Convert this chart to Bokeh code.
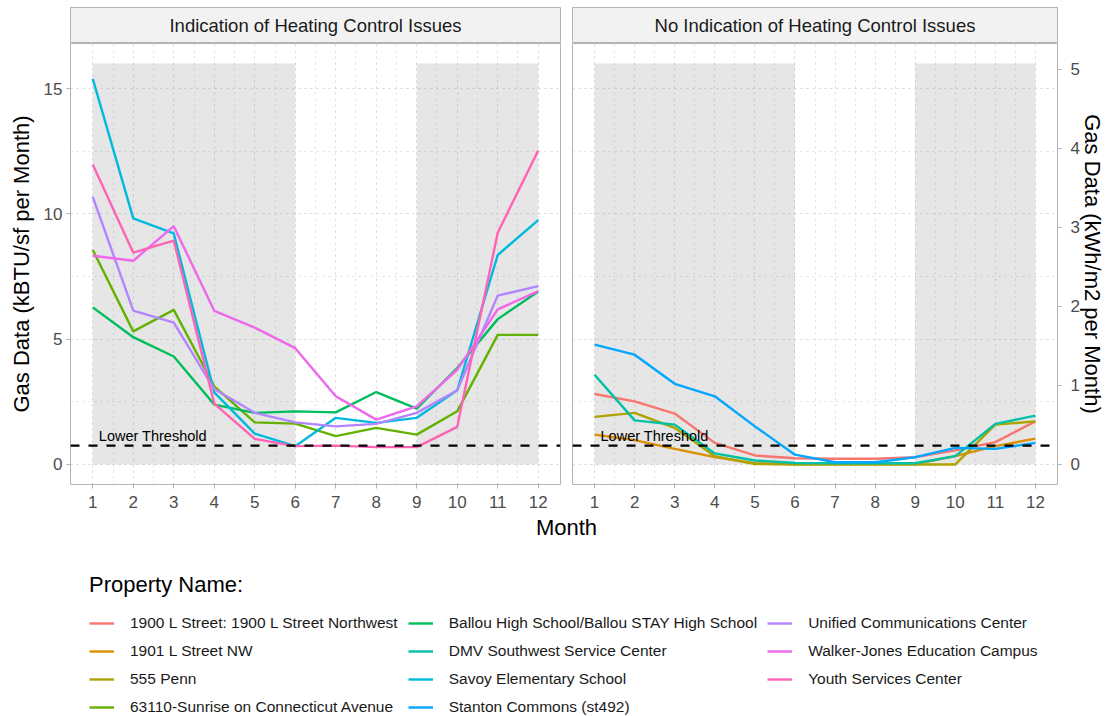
from bokeh.plotting import figure
from bokeh.models import (Range1d, LinearAxis, FixedTicker, Grid, Span, Label,
                          Legend, LegendItem)
from bokeh.layouts import row, column
from bokeh.embed import file_html
from bokeh.resources import INLINE

FONT = "Liberation Sans"

# ---------------- data ----------------
months = [1, 2, 3, 4, 5, 6, 7, 8, 9, 10, 11, 12]
minor_months = [1.5, 2.5, 3.5, 4.5, 5.5, 6.5, 7.5, 8.5, 9.5, 10.5, 11.5]
panels = ["Indication of Heating Control Issues", "No Indication of Heating Control Issues"]

property_names = [
    "1900 L Street: 1900 L Street Northwest",
    "1901 L Street NW",
    "555 Penn",
    "63110-Sunrise on Connecticut Avenue",
    "Ballou High School/Ballou STAY High School",
    "DMV Southwest Service Center",
    "Savoy Elementary School",
    "Stanton Commons (st492)",
    "Unified Communications Center",
    "Walker-Jones Education Campus",
    "Youth Services Center",
]
colors = ["#F8766D", "#DB8E00", "#AEA200", "#64B200", "#00BD5C", "#00C1A7",
          "#00BADE", "#00A6FF", "#B385FF", "#EF67EB", "#FF63B6"]
# 0 = Indication of Heating Control Issues, 1 = No Indication
panel_of = [1, 1, 1, 0, 0, 1, 0, 1, 0, 0, 0]

# Gas data, kBTU/sf per month
gas_1900_l = [2.81, 2.52, 2.03, 0.86, 0.36, 0.25, 0.23, 0.23, 0.29, 0.56, 0.89, 1.72]
gas_1901_l = [1.19, 0.97, 0.62, 0.29, 0.05, 0.02, 0.02, 0.02, 0.02, 0.33, 0.73, 1.03]
gas_555_penn = [1.90, 2.06, 1.46, 0.33, 0.02, 0.0, 0.0, 0.0, 0.0, 0.0, 1.59, 1.72]
gas_sunrise = [8.56, 5.31, 6.17, 3.12, 1.68, 1.63, 1.13, 1.46, 1.19, 2.12, 5.17, 5.17]
gas_ballou = [6.27, 5.08, 4.31, 2.39, 2.06, 2.12, 2.08, 2.89, 2.23, 3.85, 5.80, 6.90]
gas_dmv = [3.58, 1.76, 1.59, 0.44, 0.16, 0.06, 0.05, 0.05, 0.05, 0.33, 1.62, 1.95]
gas_savoy = [15.39, 9.82, 9.22, 2.88, 1.23, 0.73, 1.86, 1.66, 1.86, 2.96, 8.36, 9.75]
gas_stanton = [4.78, 4.38, 3.22, 2.72, 1.52, 0.39, 0.09, 0.09, 0.29, 0.66, 0.62, 0.86]
gas_unified = [10.68, 6.14, 5.66, 3.01, 2.06, 1.68, 1.52, 1.62, 2.06, 2.96, 6.74, 7.12]
gas_walker = [8.33, 8.13, 9.51, 6.13, 5.46, 4.64, 2.72, 1.79, 2.32, 3.78, 6.19, 6.92]
gas_youth = [11.97, 8.45, 8.93, 2.43, 1.02, 0.73, 0.75, 0.69, 0.69, 1.50, 9.25, 12.53]

series = [gas_1900_l, gas_1901_l, gas_555_penn, gas_sunrise, gas_ballou, gas_dmv,
          gas_savoy, gas_stanton, gas_unified, gas_walker, gas_youth]

y_ticks = [0, 5, 10, 15]
y_minor = [2.5, 7.5, 12.5]
kwh_ticks = [0, 1, 2, 3, 4, 5]
kbtu_per_kwh_m2 = 3.1546

shade_start = [1, 9]
shade_end = [6, 12]
shade_bottom = 0
shade_top = 16
threshold = 0.75
threshold_label = "Lower Threshold"

y_title = "Gas Data (kBTU/sf per Month)"
y2_title = "Gas Data (kWh/m2 per Month)"
x_title = "Month"
legend_title = "Property Name:"

# ---------------- style ----------------
BORDER = "#B3B3B3"
TICK_TXT = "#4D4D4D"


def style_axis(ax):
    ax.axis_line_color = None
    ax.major_tick_line_color = BORDER
    ax.major_tick_out = 4
    ax.major_tick_in = 0
    ax.minor_tick_line_color = None
    ax.major_label_text_font = FONT
    ax.major_label_text_font_size = "17px"
    ax.major_label_text_color = TICK_TXT
    ax.axis_label_text_font = FONT
    ax.axis_label_text_font_size = "22px"
    ax.axis_label_text_font_style = "normal"
    ax.axis_label_text_color = "black"


def make_panel(i):
    left = i == 0
    w = 566 if left else 541
    mb_left = 70 if left else 6
    mb_right = 6 if left else 45
    p = figure(width=w, height=473, x_range=Range1d(0.45, 12.55),
               y_range=Range1d(-0.8, 16.8), output_backend="svg",
               toolbar_location=None, title=None, x_axis_type=None, y_axis_type=None,
               min_border_left=mb_left, min_border_right=mb_right,
               min_border_top=0, min_border_bottom=32,
               outline_line_color=BORDER, outline_line_width=1,
               background_fill_color="white", border_fill_color="white")
    xg = Grid(dimension=0, ticker=FixedTicker(ticks=months, minor_ticks=minor_months),
              grid_line_color="#D4D4D4", grid_line_dash="2 4", grid_line_width=1,
              minor_grid_line_color="#DEDEDE", minor_grid_line_dash="2 4")
    yg = Grid(dimension=1, ticker=FixedTicker(ticks=y_ticks, minor_ticks=y_minor),
              grid_line_color="#D4D4D4", grid_line_dash="2 4", grid_line_width=1,
              minor_grid_line_color="#DEDEDE", minor_grid_line_dash="2 4")
    p.add_layout(xg, "center")
    p.add_layout(yg, "center")

    xa = LinearAxis(ticker=FixedTicker(ticks=months))
    style_axis(xa)
    xa.major_label_standoff = 7
    p.add_layout(xa, "below")

    if left:
        ya = LinearAxis(ticker=FixedTicker(ticks=y_ticks), axis_label=y_title)
        style_axis(ya)
        ya.major_label_standoff = 4
        ya.axis_label_standoff = 7
        p.add_layout(ya, "left")
    else:
        p.extra_y_ranges = {"kwh": Range1d(-0.8 / kbtu_per_kwh_m2, 16.8 / kbtu_per_kwh_m2)}
        ya = LinearAxis(y_range_name="kwh", ticker=FixedTicker(ticks=kwh_ticks),
                        axis_label=y2_title)
        style_axis(ya)
        ya.major_label_standoff = 9
        ya.axis_label_standoff = -3
        p.add_layout(ya, "right")

    p.quad(left=shade_start, right=shade_end, bottom=shade_bottom, top=shade_top,
           fill_color="#8C8C8C", fill_alpha=0.22, line_color=None)

    for name, col, vals, pan in zip(property_names, colors, series, panel_of):
        if pan == i:
            p.line(months, vals, line_color=col, line_width=2.4)

    p.add_layout(Span(location=threshold, dimension="width", line_color="black",
                      line_dash="9 9", line_width=2.3))
    p.add_layout(Label(x=1.15, y=1.13, text=threshold_label, text_font=FONT,
                       text_font_size="14.5px", text_color="black",
                       text_align="left", text_baseline="middle"))

    s = figure(width=w, height=43, x_range=Range1d(0, 1), y_range=Range1d(0, 1),
               output_backend="svg", toolbar_location=None, title=None,
               x_axis_type=None, y_axis_type=None,
               min_border_left=mb_left, min_border_right=mb_right,
               min_border_top=7, min_border_bottom=0,
               background_fill_color="#F2F2F2", border_fill_color="white",
               outline_line_color=BORDER)
    s.add_layout(Label(x=0.5, y=0.5, text=panels[i], text_font=FONT,
                       text_font_size="18.5px", text_color="#1A1A1A",
                       text_align="center", text_baseline="middle"))
    return column(s, p)


left_col = make_panel(0)
right_col = make_panel(1)

# ---------------- legend / x title ----------------
LW, LH = 1107, 200
lg = figure(width=LW, height=LH, x_range=Range1d(0, LW), y_range=Range1d(0, LH),
            output_backend="svg", toolbar_location=None, title=None,
            x_axis_type=None, y_axis_type=None, min_border=0,
            outline_line_color=None, background_fill_color="white",
            border_fill_color="white")
lg.add_layout(Label(x=566, y=LH - 11, text=x_title, text_font=FONT, text_font_size="22px",
                    text_color="black", text_align="center", text_baseline="middle"))
# off-screen proxies so the legend can draw each key line
proxy_x = [-100, -90]
proxy_y = [-100, -100]
items = []
for name, col in zip(property_names, colors):
    r = lg.line(x=proxy_x, y=proxy_y, line_color=col, line_width=2.4)
    items.append(LegendItem(label=name, renderers=[r]))
legend = Legend(items=items, location=(89, 0), orientation="vertical", nrows=4,
                title=legend_title, title_text_font=FONT, title_text_font_size="22px",
                title_text_font_style="normal", title_text_color="black",
                title_standoff=16,
                label_text_font=FONT, label_text_font_size="15.5px",
                label_text_color="#1A1A1A", label_height=18, glyph_height=18,
                glyph_width=25, label_standoff=16, spacing=10, padding=0, margin=0,
                border_line_color=None, background_fill_alpha=0)
lg.add_layout(legend)

layout = column(row(left_col, right_col), lg)

open("out.html", "w").write(file_html(layout, INLINE))
